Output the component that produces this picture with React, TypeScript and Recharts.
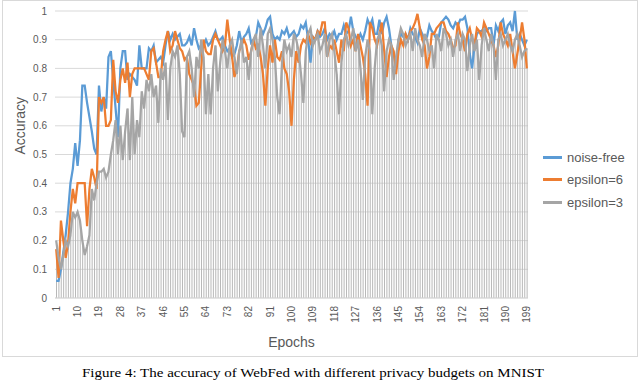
import React from 'react';
import { ComposedChart, Line, Bar, XAxis, YAxis, CartesianGrid, Customized } from 'recharts';

const noiseFree = [
  0.06, 0.06, 0.1, 0.16, 0.22, 0.3, 0.4, 0.45, 0.54, 0.46,
  0.55, 0.74, 0.74, 0.68, 0.63, 0.58, 0.52, 0.5, 0.74, 0.65,
  0.7, 0.66, 0.84, 0.86, 0.76, 0.66, 0.56, 0.8, 0.86, 0.86,
  0.76, 0.78, 0.77, 0.76, 0.74, 0.88, 0.8, 0.8, 0.8, 0.87,
  0.86, 0.88, 0.82, 0.83, 0.84, 0.82, 0.88, 0.93, 0.9, 0.92,
  0.9, 0.91, 0.92, 0.88, 0.88, 0.89, 0.91, 0.88, 0.94, 0.9,
  0.87, 0.88, 0.88, 0.9, 0.88, 0.89, 0.91, 0.93, 0.9, 0.9,
  0.91, 0.88, 0.86, 0.87, 0.84, 0.85, 0.88, 0.93, 0.89, 0.91,
  0.92, 0.94, 0.89, 0.9, 0.91, 0.96, 0.94, 0.92, 0.94, 0.97,
  0.98, 0.92, 0.9, 0.91, 0.9, 0.93, 0.92, 0.94, 0.91, 0.92,
  0.93, 0.91, 0.92, 0.95, 0.94, 0.96, 0.9, 0.82, 0.91, 0.9,
  0.93, 0.91, 0.92, 0.94, 0.9, 0.92, 0.91, 0.93, 0.9, 0.92,
  0.92, 0.95, 0.92, 0.93, 0.98, 0.93, 0.91, 0.9, 0.92, 0.9,
  0.93, 0.97, 0.95, 0.97, 0.92, 0.92, 0.97, 0.92, 0.96, 0.98,
  0.94, 0.88, 0.85, 0.8, 0.9, 0.92, 0.91, 0.92, 0.9, 0.94,
  0.92, 0.91, 0.89, 0.94, 0.92, 0.9, 0.91, 0.95, 0.93, 0.92,
  0.9, 0.91, 0.96, 0.97, 0.98, 0.97, 0.95, 0.94, 0.96, 0.95,
  0.97, 0.97, 0.98, 0.94, 0.85, 0.8, 0.88, 0.92, 0.93, 0.93,
  0.94, 0.93, 0.94, 0.94, 0.88, 0.95, 0.93, 0.96, 0.97, 0.92,
  0.95, 0.96, 0.93, 1.0, 0.9, 0.92, 0.9, 0.88, 0.9,
];

const epsilon6 = [
  0.17, 0.07, 0.27, 0.2, 0.14, 0.19, 0.3, 0.38, 0.33, 0.4,
  0.4, 0.4, 0.4, 0.25, 0.38, 0.45, 0.42, 0.38, 0.7, 0.68,
  0.7, 0.6, 0.6, 0.62, 0.83, 0.72, 0.68, 0.76, 0.8, 0.75,
  0.82, 0.7, 0.78, 0.8, 0.8, 0.8, 0.8, 0.8, 0.78, 0.76,
  0.86, 0.87, 0.82, 0.77, 0.77, 0.86, 0.9, 0.93, 0.86, 0.88,
  0.93, 0.9, 0.87, 0.86, 0.83, 0.84, 0.78, 0.76, 0.74, 0.67,
  0.68, 0.8, 0.9, 0.86, 0.85, 0.85, 0.9, 0.92, 0.9, 0.88,
  0.86, 0.88, 0.97, 0.9, 0.84, 0.77, 0.8, 0.86, 0.88, 0.9,
  0.88, 0.83, 0.86, 0.9, 0.87, 0.88, 0.84, 0.78, 0.67, 0.8,
  0.88, 0.82, 0.9, 0.84, 0.83, 0.86, 0.8, 0.78, 0.72, 0.6,
  0.76, 0.86, 0.82, 0.88, 0.9, 0.89, 0.92, 0.89, 0.91, 0.9,
  0.93, 0.92, 0.96, 0.96, 0.84, 0.88, 0.87, 0.9, 0.86, 0.82,
  0.9, 0.86, 0.96, 0.94, 0.88, 0.9, 0.86, 0.92, 0.88, 0.84,
  0.78, 0.67, 0.96, 0.94, 0.9, 0.88, 0.92, 0.96, 0.86, 0.77,
  0.84, 0.88, 0.86, 0.78, 0.86, 0.9, 0.88, 0.92, 0.9, 0.93,
  0.94, 0.96, 0.99, 0.94, 0.9, 0.88, 0.8, 0.84, 0.92, 0.92,
  0.94, 0.95, 0.96, 0.96, 0.93, 0.92, 0.9, 0.87, 0.88, 0.96,
  0.92, 0.9, 0.86, 0.92, 0.94, 0.9, 0.88, 0.94, 0.93, 0.91,
  0.96, 0.94, 0.92, 0.9, 0.88, 0.84, 0.88, 0.96, 0.92, 0.9,
  0.88, 0.92, 0.86, 0.8, 0.85, 0.9, 0.96, 0.9, 0.8,
];

const epsilon3 = [
  0.2, 0.14, 0.1, 0.15, 0.2, 0.18, 0.22, 0.3, 0.28, 0.3,
  0.27, 0.2, 0.15, 0.18, 0.22, 0.38, 0.34, 0.4, 0.44, 0.44,
  0.45, 0.42, 0.44, 0.5, 0.55, 0.62, 0.5, 0.6, 0.48, 0.58,
  0.66, 0.48, 0.7, 0.5, 0.62, 0.56, 0.72, 0.66, 0.76, 0.72,
  0.78, 0.7, 0.74, 0.61, 0.8, 0.76, 0.82, 0.62, 0.8, 0.86,
  0.84, 0.88, 0.78, 0.58, 0.56, 0.84, 0.86, 0.8, 0.7, 0.84,
  0.8, 0.9, 0.84, 0.64, 0.78, 0.64, 0.8, 0.88, 0.72, 0.82,
  0.9, 0.86, 0.8, 0.88, 0.9, 0.84, 0.78, 0.86, 0.9, 0.82,
  0.84, 0.76, 0.86, 0.9, 0.92, 0.84, 0.94, 0.88, 0.8, 0.92,
  0.94, 0.9, 0.84, 0.7, 0.64, 0.82, 0.9, 0.86, 0.88, 0.84,
  0.92, 0.9, 0.86, 0.78, 0.68, 0.86, 0.92, 0.94, 0.88, 0.9,
  0.92, 0.86, 0.88, 0.92, 0.84, 0.9, 0.92, 0.86, 0.78, 0.64,
  0.82, 0.9, 0.92, 0.88, 0.9, 0.94, 0.86, 0.9, 0.8, 0.69,
  0.84, 0.9, 0.86, 0.64, 0.8, 0.9, 0.92, 0.88, 0.72, 0.86,
  0.9, 0.88, 0.76, 0.84, 0.9, 0.94, 0.92, 0.88, 0.9, 0.92,
  0.86, 0.94, 0.9, 0.88, 0.84, 0.92, 0.9, 0.86, 0.88, 0.8,
  0.92, 0.9, 0.86, 0.94, 0.92, 0.88, 0.9, 0.84, 0.9, 0.92,
  0.86, 0.92, 0.9, 0.79, 0.88, 0.92, 0.86, 0.9, 0.76, 0.88,
  0.94, 0.9, 0.86, 0.92, 0.88, 0.76, 0.9, 0.92, 0.88, 0.9,
  0.92, 0.88, 0.86, 0.9, 0.92, 0.88, 0.84, 0.86, 0.87,
];

const epochs = noiseFree.map((_, i) => String(i + 1));
const yTicks = [0, 0.1, 0.2, 0.3, 0.4, 0.5, 0.6, 0.7, 0.8, 0.9, 1];
const seriesNames = ['noise-free', 'epsilon=6', 'epsilon=3'];
const seriesColors = ['#5B9BD5', '#ED7D31', '#A5A5A5'];
const caption = 'Figure 4: The accuracy of WebFed with different privacy budgets on MNIST';

const data = epochs.map((e, i) => ({
  epoch: e,
  nf: noiseFree[i],
  e6: epsilon6[i],
  e3: epsilon3[i],
}));

const FONT = '"Liberation Sans", Arial, sans-serif';
const TEXT = '#595959';

const XTick = (props: any) => {
  const { x, y, payload } = props;
  return (
    <text
      x={x}
      y={y}
      transform={`rotate(-90, ${x}, ${y})`}
      textAnchor="end"
      dominantBaseline="central"
      fontSize={10}
      fill={TEXT}
      fontFamily={FONT}
    >
      {payload.value}
    </text>
  );
};

export default function App() {
  return (
    <div style={{ position: 'absolute', left: 0, top: 0, width: 640, height: 381, background: '#fff', overflow: 'hidden' }}>
      <ComposedChart
        width={640}
        height={381}
        data={data}
        margin={{ top: 11, right: 112, bottom: 0, left: 0 }}
        barCategoryGap={0}
      >
        <Customized
          component={() => (
            <g>
              <rect x={2.5} y={0.5} width={635} height={356} fill="none" stroke="#d9d9d9" />
              <text
                x={82}
                y={377}
                fontFamily='"Liberation Serif", "Times New Roman", serif'
                fontSize={12}
                fill="#000"
                textLength={462}
                lengthAdjust="spacingAndGlyphs"
              >
                {caption}
              </text>
            </g>
          )}
        />
        <CartesianGrid horizontal vertical={false} stroke="#d9d9d9" />
        <XAxis
          dataKey="epoch"
          interval={8}
          tickLine={false}
          axisLine={{ stroke: '#d9d9d9' }}
          height={83}
          tick={<XTick />}
          label={{ value: 'Epochs', position: 'insideBottom', offset: 34, fill: TEXT, fontSize: 14, fontFamily: FONT }}
        />
        <YAxis
          domain={[0, 1]}
          ticks={yTicks}
          width={55}
          tickLine={false}
          axisLine={false}
          tick={{ fontSize: 10, fill: TEXT, fontFamily: FONT }}
          tickFormatter={(v: number) => (v === 0 || v === 1 ? String(v) : v.toFixed(1))}
          label={{ value: 'Accuracy', angle: -90, position: 'insideLeft', offset: 20, fill: TEXT, fontSize: 14, fontFamily: FONT }}
        />
        <Bar dataKey="e3" barSize={1} fill="#b8b8b8" isAnimationActive={false} legendType="none" />
        <Line dataKey="nf" name={seriesNames[0]} stroke={seriesColors[0]} strokeWidth={2.25} dot={false} isAnimationActive={false} />
        <Line dataKey="e6" name={seriesNames[1]} stroke={seriesColors[1]} strokeWidth={2.25} dot={false} isAnimationActive={false} />
        <Line dataKey="e3" name={seriesNames[2]} stroke={seriesColors[2]} strokeWidth={2.25} dot={false} isAnimationActive={false} />
      </ComposedChart>
      <div style={{ position: 'absolute', left: 543, top: 146, fontFamily: FONT, fontSize: 13, color: TEXT }}>
        {seriesNames.map((n, i) => (
          <div key={n} style={{ display: 'flex', alignItems: 'center', height: 22.5 }}>
            <div style={{ width: 19, height: 3, background: seriesColors[i], marginRight: 5 }} />
            <span>{n}</span>
          </div>
        ))}
      </div>
    </div>
  );
}
